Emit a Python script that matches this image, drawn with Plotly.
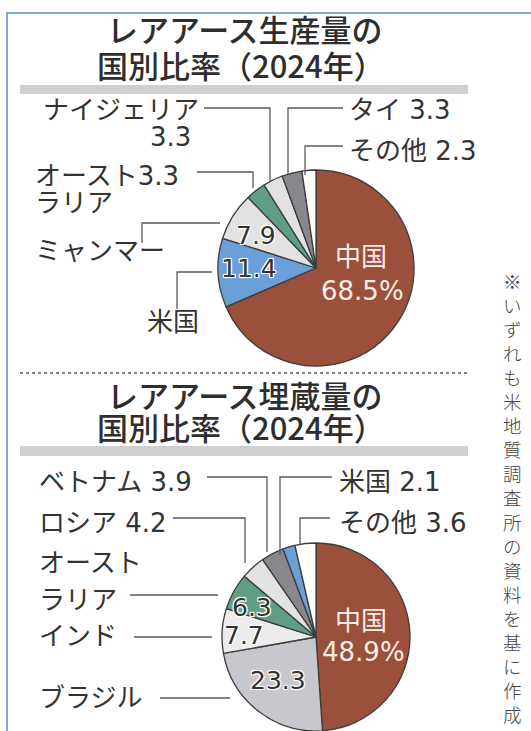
import plotly.graph_objects as go

W, H = 531, 731

# ---------------- data ----------------
prod_names = ["中国", "米国", "ミャンマー", "オーストラリア", "ナイジェリア", "タイ", "その他"]
prod_values = [68.5, 11.4, 7.9, 3.3, 3.3, 3.3, 2.3]
prod_colors = ["#9b503c", "#6b9fd8", "#e2e2e2", "#5f9e85", "#e2e2e2", "#87878c", "#ffffff"]

res_names = ["中国", "ブラジル", "インド", "オーストラリア", "ロシア", "ベトナム", "米国", "その他"]
res_values = [48.9, 23.3, 7.7, 6.3, 4.2, 3.9, 2.1, 3.6]
res_colors = ["#9b503c", "#c7c7cd", "#ececec", "#5f9e85", "#e2e2e2", "#87878c", "#6b9fd8", "#ffffff"]

title1 = ["レアアース生産量の", "国別比率（2024年）"]
title2 = ["レアアース埋蔵量の", "国別比率（2024年）"]
note = "※いずれも米地質調査所の資料を基に作成"

TFONT = "Noto Sans CJK JP, sans-serif"
FONT = "DejaVu Sans, Noto Sans CJK JP, sans-serif"
TXT = "#333333"
LINE = "#5a5a5a"


def px(x):
    return x / W


def py(y):
    return 1 - y / H


def fmt(v):
    return f"{v:.1f}"


fig = go.Figure()

# ---------------- pies ----------------
c1, r1 = (316, 268), 98
c2, r2 = (316, 637), 94

fig.add_trace(go.Pie(
    labels=prod_names, values=prod_values, sort=False, direction="clockwise", rotation=0,
    marker=dict(colors=prod_colors, line=dict(color="#3c3c3c", width=1.3)),
    textinfo="none", hoverinfo="label+value", showlegend=False,
    domain=dict(x=[px(c1[0] - r1), px(c1[0] + r1)], y=[py(c1[1] + r1), py(c1[1] - r1)]),
))
fig.add_trace(go.Pie(
    labels=res_names, values=res_values, sort=False, direction="clockwise", rotation=0,
    marker=dict(colors=res_colors, line=dict(color="#3c3c3c", width=1.3)),
    textinfo="none", hoverinfo="label+value", showlegend=False,
    domain=dict(x=[px(c2[0] - r2), px(c2[0] + r2)], y=[max(0, py(c2[1] + r2)), py(c2[1] - r2)]),
))

annotations = []
shapes = []


def ann(text, x, y, xanchor="left", size=26, color=TXT, shadow=None, weight=None, family=FONT):
    f = dict(family=family, size=size, color=color)
    if shadow:
        f["shadow"] = shadow
    if weight:
        f["weight"] = weight
    annotations.append(dict(text=text, x=px(x), y=py(y), xref="paper", yref="paper",
                            xanchor=xanchor, yanchor="middle", showarrow=False, font=f))


def path(points, color=LINE, width=1.3, dash=None):
    d = "M " + " L ".join(f"{px(x)},{py(y)}" for x, y in points)
    ln = dict(color=color, width=width)
    if dash:
        ln["dash"] = dash
    shapes.append(dict(type="path", path=d, xref="paper", yref="paper", line=ln))


HALO = "-1px -1px 0 #fff, 1px -1px 0 #fff, -1px 1px 0 #fff, 1px 1px 0 #fff, 0 0 3px #fff"
CREAM = "#f6ede6"

# ---------------- frame, bars, separator ----------------
path([(7, 731), (7, 13), (531, 13)], color="#5b8fd6", width=1.6)
shapes.append(dict(type="rect", xref="paper", yref="paper", x0=px(20), x1=px(468),
                   y0=py(94), y1=py(85), fillcolor="#cfcfcf", line=dict(width=0), layer="below"))
shapes.append(dict(type="rect", xref="paper", yref="paper", x0=px(20), x1=px(468),
                   y0=py(456), y1=py(446), fillcolor="#cfcfcf", line=dict(width=0), layer="below"))
path([(20, 373), (467, 373)], color="#555555", width=1.6, dash="dot")

# ---------------- titles ----------------
ann(title1[0], 245, 29, "center", size=31, color="#2e2e2e", weight=500, family=TFONT)
ann(title1[1], 241, 64, "center", size=31, color="#2e2e2e", weight=500, family=TFONT)
ann(title2[0], 245, 394, "center", size=31, color="#2e2e2e", weight=500, family=TFONT)
ann(title2[1], 241, 426, "center", size=31, color="#2e2e2e", weight=500, family=TFONT)

# ---------------- production pie labels ----------------
p = dict(zip(prod_names, prod_values))
ann("ナイジェリア", 201, 110, "right")
ann(fmt(p["ナイジェリア"]), 193, 137, "right")
ann(f"タイ {fmt(p['タイ'])}", 347, 110)
ann(f"その他 {fmt(p['その他'])}", 347, 151)
ann(f"オースト{fmt(p['オーストラリア'])}", 33, 176)
ann("ラリア", 33, 203)
ann("ミャンマー", 33, 251)
ann("米国", 145, 322)
ann(fmt(p["ミャンマー"]), 256, 235, "center", size=25, shadow=HALO)
ann(fmt(p["米国"]), 249, 268, "center", size=25, shadow=HALO)
ann("中国", 361, 257, "center", color=CREAM)
ann(f"{fmt(p['中国'])}%", 362, 291, "center", color=CREAM)

path([(204, 108), (270, 108), (270, 181)])
path([(343, 108), (288, 108), (288, 174)])
path([(343, 146), (305, 146), (305, 175)])
path([(197, 172), (253, 172), (253, 188)])
path([(142, 243), (142, 223), (220, 223)])
path([(177, 309), (177, 272), (212, 272)])

# ---------------- reserves pie labels ----------------
r = dict(zip(res_names, res_values))
ann(f"ベトナム {fmt(r['ベトナム'])}", 37, 482)
ann(f"米国 {fmt(r['米国'])}", 337, 482)
ann(f"ロシア {fmt(r['ロシア'])}", 37, 523)
ann(f"その他 {fmt(r['その他'])}", 337, 523)
ann("オースト", 37, 563)
ann("ラリア", 37, 600)
ann("インド", 37, 636)
ann("ブラジル", 37, 698)
ann(fmt(r["オーストラリア"]), 252, 607, "center", size=25, shadow=HALO)
ann(fmt(r["インド"]), 244, 635, "center", size=25, shadow=HALO)
ann(fmt(r["ブラジル"]), 278, 680, "center", size=25, shadow=HALO)
ann("中国", 361, 621, "center", color=CREAM)
ann(f"{fmt(r['中国'])}%", 363, 652, "center", color=CREAM)

path([(207, 477), (267, 477), (267, 552)])
path([(332, 477), (280, 477), (280, 555)])
path([(173, 518), (245, 518), (245, 563)])
path([(330, 518), (300, 518), (300, 545)])
path([(130, 595), (218, 595)])
path([(134, 637), (212, 637)])
path([(160, 698), (230, 698)])

# ---------------- vertical note ----------------
ann("<br>".join(note), 512, 497, "center", size=18.5, color="#444444", weight=300, family=TFONT)

fig.update_layout(
    width=W, height=H, margin=dict(l=0, r=0, t=0, b=0),
    paper_bgcolor="white", plot_bgcolor="white",
    annotations=annotations, shapes=shapes,
)

fig.write_html(
    "out.html",
    config={"displayModeBar": False},
    post_script="document.body.style.margin='0';document.body.style.overflow='hidden';",
)
